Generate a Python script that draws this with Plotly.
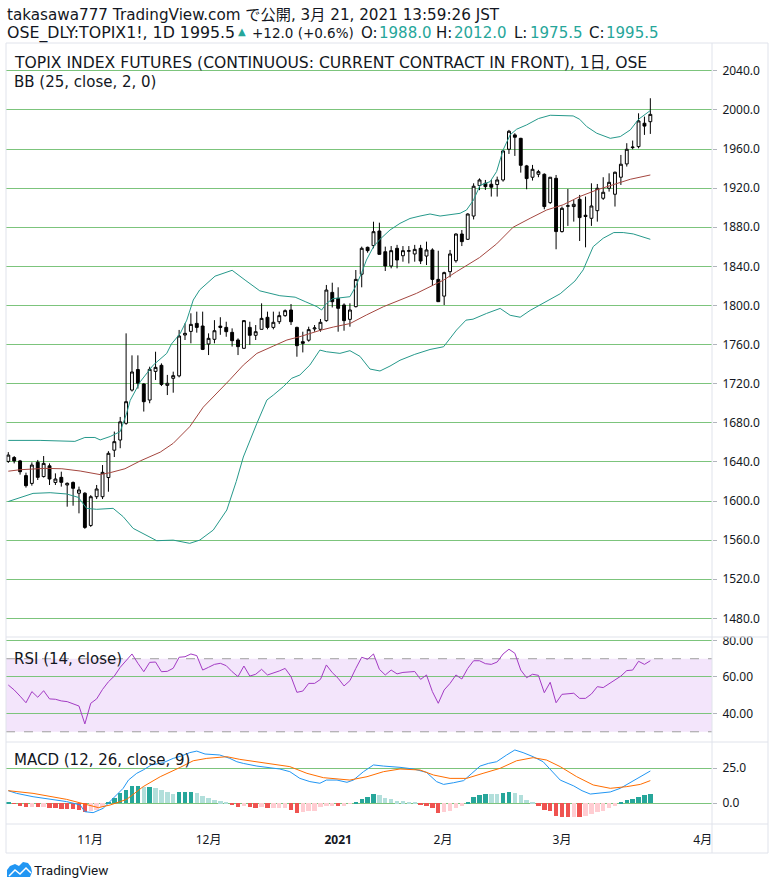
import plotly.graph_objects as go
from plotly.subplots import make_subplots

# ---- daily bars (bar index 0 = mid Oct 2020, last = 19 Mar 2021) ----
opens = [1640.5, 1644.5, 1641, 1626, 1618, 1639.6, 1625, 1636, 1619, 1624.2,
         1616.4, 1619, 1608, 1608, 1575, 1604.4, 1604.4, 1624, 1652, 1662.4,
         1679.5, 1713.5, 1734.5, 1719.7, 1703.3, 1732.6, 1738.8, 1718.3, 1725.5, 1728,
         1769.8, 1773.5, 1781.7, 1779, 1760.6, 1765.4, 1778.9, 1777.6, 1772.5, 1764.7,
         1756.2, 1777.6, 1769.5, 1775.6, 1787.9, 1777.6, 1783.4, 1789.6, 1795.4, 1777.6,
         1763, 1764.5, 1776, 1775.6, 1784.5, 1813.4, 1807.3, 1800.5, 1785.8, 1798.8,
         1832, 1859.5, 1861.2, 1876.2, 1855, 1840.4, 1858.5, 1850.9, 1855.5, 1852.7,
         1858.5, 1850.6, 1856.8, 1826.7, 1809.6, 1834.6, 1845.8, 1873.1, 1867.7, 1891.5,
         1922.6, 1925, 1924, 1923.7, 1928.4, 1959.8, 1974.5, 1971, 1942.8, 1931.2,
         1934.2, 1934.2, 1905.2, 1930.1, 1875.6, 1901.5, 1901.2, 1908.6, 1892.3, 1889.2,
         1897, 1909.7, 1919.9, 1913.8, 1931.2, 1944.8, 1961.5, 1962.5, 1986.4, 1988.0]
highs = [1650, 1646, 1642, 1629, 1639.5, 1642, 1646, 1638.5, 1628.3, 1630,
         1619, 1620, 1614.7, 1609, 1606, 1616.4, 1636.8, 1651, 1671, 1686,
         1771.5, 1749, 1749, 1720.5, 1737.4, 1752.7, 1740.8, 1729, 1732.3, 1775,
         1781.7, 1792, 1793.7, 1793.7, 1771.5, 1785, 1788, 1783.4, 1776.6, 1766.4,
         1785.1, 1783.4, 1780, 1802.2, 1793.7, 1793.7, 1793.7, 1796, 1801.5, 1778.3,
         1773.2, 1778.3, 1780, 1786.2, 1821, 1823.3, 1818.6, 1802.2, 1802.2, 1836.3,
         1860.2, 1860.2, 1885.7, 1884.7, 1860.2, 1860.8, 1862, 1860.8, 1860.8, 1862,
         1862, 1865.3, 1858.5, 1856, 1834.6, 1856.8, 1873.8, 1877.2, 1894.3, 1925,
         1930, 1928.4, 1928.4, 1931.8, 1959.1, 1979.6, 1976.2, 1971.5, 1943.8, 1943.8,
         1938.7, 1935.2, 1931.2, 1933.5, 1901.2, 1919.2, 1908, 1913.1, 1911.4, 1925,
         1924.3, 1931.2, 1935.2, 1937, 1954, 1966, 1968.7, 1996.6, 1993.2, 2012.0]
lows = [1639, 1638.5, 1627, 1613.7, 1615.7, 1621.5, 1624, 1616.4, 1616.4, 1614.7,
        1594.2, 1595.2, 1587.4, 1571.5, 1573.5, 1602, 1602, 1609.5, 1645, 1654,
        1678, 1712, 1715, 1691.5, 1700, 1723.8, 1717.6, 1708.4, 1710.8, 1726.5,
        1764.7, 1761.3, 1772.2, 1754.4, 1749.3, 1761.3, 1770, 1768, 1758, 1749.3,
        1756, 1759.6, 1764.7, 1775.6, 1775.6, 1775.6, 1781, 1788.5, 1780, 1747.6,
        1752, 1763, 1773.2, 1773.2, 1783.4, 1798, 1773.2, 1774.2, 1778.3, 1798,
        1818.6, 1854, 1858.5, 1852.3, 1835.3, 1838, 1838, 1844.8, 1843, 1844.8,
        1842.4, 1841.4, 1820, 1803.9, 1800.5, 1828.8, 1843.8, 1860.8, 1867, 1888,
        1918, 1918.2, 1911.4, 1911.4, 1926.7, 1955, 1953, 1935.9, 1918.9, 1927.8,
        1931.2, 1898.4, 1903.9, 1857.5, 1874.6, 1881.4, 1885.8, 1866, 1859.5, 1881.4,
        1885.8, 1908, 1916.5, 1901.2, 1923.3, 1942.1, 1959.8, 1960.8, 1974.5, 1975.5]
closes = [1647, 1641, 1630, 1615.7, 1636.8, 1624.2, 1638.5, 1622.5, 1622.5, 1619.1,
          1618.1, 1613, 1611.3, 1573, 1604.4, 1612.3, 1629.3, 1648.8, 1660.7, 1681,
          1701.6, 1732, 1720.5, 1701.6, 1734.7, 1736.7, 1719.3, 1720.4, 1728.2, 1768.8,
          1771.5, 1780.7, 1777.6, 1755.1, 1766.4, 1774.2, 1777.6, 1773.2, 1764, 1757.9,
          1784.5, 1769.5, 1773.2, 1786.8, 1777.6, 1782.8, 1789.6, 1794.7, 1783.4, 1758.9,
          1761.3, 1775.3, 1777, 1782.8, 1815.8, 1803.9, 1797.1, 1784.5, 1795.4, 1826.7,
          1858.5, 1856.1, 1875.5, 1852.3, 1840.4, 1856.1, 1846.5, 1856.1, 1856, 1857.4,
          1845.5, 1856.8, 1826.7, 1803.9, 1833.6, 1852.7, 1873.1, 1865.3, 1893.6, 1922,
          1928.4, 1921.6, 1921, 1928.4, 1958.1, 1978.2, 1972.1, 1943.4, 1929.8, 1939.3,
          1936.9, 1901.2, 1931.2, 1875.6, 1899.4, 1902, 1903.5, 1889.9, 1891, 1901.8,
          1919.9, 1915.8, 1926, 1936.3, 1944.5, 1959.8, 1962, 1988.8, 1983.5, 1995.5]
bars = list(range(len(closes)))

# ---- Bollinger bands (read at bar positions) ----
bb_upper_x = [0, 5.4, 11.3, 13, 14.7, 15.6, 17.3, 19, 20.1, 20.7, 22.4, 24.6, 26.9, 27.7,
              29.2, 30.3, 31.4, 32.5, 35.1, 38, 40.2, 42.7, 46.1, 48.7, 50.4, 52.4, 53.2,
              54, 55.1, 56.8, 58, 58.9, 60, 60.8, 62, 63.1, 64.8, 66.5, 68.2, 69.9, 71.6,
              73.3, 75, 76.7, 77.8, 79, 80.1, 81.8, 82.9, 84, 85.2, 86.3, 88, 90, 92,
              94.2, 95.9, 97, 98.2, 99.9, 102.2, 103.9, 105.6, 107, 108.4, 109]
bb_upper = [1662, 1662, 1661, 1665, 1665, 1662.5, 1666, 1671, 1690, 1703, 1722, 1739, 1751,
            1760.6, 1771.5, 1785, 1805.6, 1816, 1830, 1836, 1826, 1815, 1810, 1808.5, 1804,
            1798.8, 1795.4, 1802, 1807, 1808, 1809, 1818.6, 1833.6, 1846.5, 1860.2, 1867.7,
            1877.2, 1884, 1889, 1891.5, 1893.6, 1891.5, 1892.6, 1894.3, 1897.7, 1908, 1923,
            1926.7, 1937, 1959, 1974.5, 1980.3, 1984.7, 1991.2, 1994.6, 1994.6, 1993.9,
            1990.5, 1983, 1976.2, 1971, 1972.8, 1979.6, 1990.5, 1996.6, 1999.4]
bb_basis_x = [0, 2, 6.2, 9.1, 12.2, 15.6, 17.3, 19.8, 22.4, 25.8, 28, 30.8, 33.1, 35.4,
              37.6, 39.9, 42.2, 45, 47.3, 49.5, 52.9, 55.2, 58, 60.8, 63.7, 66.5, 69.3,
              72.2, 73.9, 76.1, 78.9, 80, 82.9, 85.7, 88.6, 91.4, 94.2, 97, 99.9, 102.7,
              105.6, 109]
bb_basis = [1630.5, 1632, 1633.4, 1633, 1630.7, 1627, 1629, 1633, 1641, 1650, 1659, 1676,
            1696, 1710, 1724, 1739, 1751, 1758.5, 1764.7, 1768.1, 1774.5, 1778, 1781.5,
            1790.3, 1798.8, 1805.6, 1812.4, 1821, 1826, 1834.6, 1844.8, 1849, 1863, 1880,
            1889.2, 1897.7, 1903, 1911.4, 1918.2, 1923.3, 1929.1, 1933.5]
bb_lower_x = [0, 2, 4.2, 7.1, 9.9, 11.9, 13.3, 15, 17.8, 19.5, 21.2, 25.2, 28, 30.8, 32.5,
              34.8, 37.1, 38.7, 39.9, 42.2, 43.9, 45, 46.7, 48.1, 49.5, 51.2, 52.9, 54,
              56.3, 58, 59.7, 61.4, 63.1, 64.8, 66.5, 69, 71.6, 73.9, 76.1, 77.7, 78.9,
              81.2, 83.5, 85.2, 86.9, 88.6, 91.1, 93.7, 96.2, 97.6, 99.3, 101, 102.8,
              104.4, 106.1, 109]
bb_lower = [1599.5, 1603.7, 1607.8, 1608.5, 1607.2, 1603.7, 1592.5, 1591.5, 1592.5, 1584,
            1572, 1559.4, 1560, 1556.7, 1560, 1570.3, 1590.8, 1620, 1645, 1679.4, 1703.3,
            1708.4, 1717, 1725.5, 1728.9, 1739.1, 1754.4, 1752.7, 1751, 1753.8, 1748, 1735,
            1733, 1738, 1744, 1750, 1755, 1757.8, 1774.9, 1785, 1786, 1791.9, 1797, 1790,
            1788, 1795, 1803, 1812, 1825, 1836.4, 1860.2, 1868.8, 1874.6, 1874.6, 1873.2,
            1867.7]

# ---- RSI (14) per bar ----
rsi = [55.6, 52.9, 49.5, 45.9, 52, 48.9, 52.5, 48, 47.8, 46.9,
       46.5, 45.2, 44.1, 34.3, 45.6, 48, 53.2, 57.4, 60.5, 65.3,
       69, 72.6, 67.5, 62.9, 68, 68.2, 62.9, 63.1, 64.8, 70.8,
       71.1, 72.6, 71.7, 63.8, 65.3, 66.9, 67.5, 66.2, 62.9, 60.2,
       66, 60.5, 61.5, 64.2, 61.1, 62, 63.3, 64.7, 60.2, 51.6,
       52.3, 56.5, 56.5, 58.7, 66.6, 62.4, 59.3, 55.1, 58, 64.7,
       70.8, 69.7, 72.6, 64.2, 61.1, 63.8, 61.7, 62.5, 62.8, 63,
       58.7, 61.1, 52, 45.6, 52.9, 56.5, 61.1, 58.9, 64.7, 68.9,
       68.9, 67.3, 66.9, 68.2, 72.6, 75.2, 73, 63.8, 59.6, 61.5,
       60.9, 51.4, 57.1, 45.9, 50.5, 50.7, 51.1, 48.3, 48.3, 50.7,
       54.7, 54.2, 56.2, 58.4, 60.5, 63.5, 63.8, 68.6, 66.9, 68.9]

# ---- MACD (12, 26, 9) ----
macd_x = [0, 1.4, 4.2, 7.1, 9.9, 12.2, 13, 14.4, 16.1, 17.8, 19.5, 20.4, 21.8, 22.9, 24.3,
          26.3, 28, 29.4, 30.8, 32, 33.4, 35.9, 37.6, 38.8, 39.9, 42.2, 43.9, 46.1, 47.8,
          49.5, 51.2, 52.9, 54, 55.8, 57.5, 58.6, 60.3, 62, 63.7, 65.4, 66.5, 68.8, 71,
          72.7, 73.9, 75.6, 77.3, 78.7, 80.1, 81.5, 82.9, 84.6, 86, 87.4, 89.1, 90.8,
          92.3, 93.7, 96, 97.4, 98.8, 100.5, 102.2, 103.9, 105.6, 107.3, 109]
macd = [8.8, 6.9, 4.5, 2.6, 1, -1.4, -6.2, -6.9, -3.8, 3.3, 10.5, 16.4, 21.2, 23.6, 27.2,
        28.8, 31.9, 33.6, 36, 37.1, 35, 34.3, 31.9, 29.5, 28.3, 26.4, 25.5, 24.3, 22.4,
        17.6, 15.3, 14.1, 16.4, 16.4, 14.8, 16.4, 22.4, 27.2, 26.4, 26, 25.5, 24.3, 21.9,
        15.3, 13.3, 14.5, 16, 21.2, 26.4, 28.3, 29.5, 34.3, 37.9, 36, 33.1, 29.5, 22.4,
        16.4, 12.2, 8.8, 6.4, 6.9, 7.9, 10.5, 14.5, 18.8, 22.9]
signal_x = [0, 4.2, 9.9, 13.3, 15.3, 17.3, 20.1, 22.9, 25.8, 29.2, 31.4, 33.7, 37.1, 39.3,
            43.9, 47.8, 50.7, 53.5, 58, 60.9, 63.7, 66.5, 69.9, 72.2, 75, 77.8, 80.6,
            83.5, 86.3, 89.1, 91.4, 93.7, 96.5, 99.3, 102.2, 105, 107.3, 109]
signal = [8.8, 6.9, 2.6, -1.4, -3.3, -1.4, 2.6, 11.7, 18.8, 25.5, 30.2, 31.9, 33.1, 31.2,
          28.3, 26, 21.2, 18.1, 16.4, 18.8, 22.4, 24.3, 23.6, 20, 17.6, 17.6, 21.2, 24.8,
          30.2, 32.4, 30.7, 26, 18.8, 12.9, 10.5, 11.7, 13.3, 16]
macd_hist = [0.3, -0.5, -1.9, -3, -2.8, -3.2, -2.6, -3.3, -3.6, -4,
             -4.3, -4.4, -5, -6.7, -5.5, -5, -2.6, 1, 3.3, 7,
             9.5, 12, 12.2, 11.2, 11.4, 11, 9.3, 7.6, 6.4, 7.6,
             7.8, 8, 6.9, 5, 3.3, 2.2, 1.4, 0.5, -1.4, -2.6,
             -2.4, -3, -3.6, -3.1, -3.8, -3.6, -3.5, -3.4, -4.8, -6.9,
             -6.2, -6, -5.7, -2.6, -2.1, -2, -2.2, -2, -0.5, 0.3,
             2.6, 4, 6.4, 5.7, 3.3, 2.9, 1.4, 1.2, 0.6, 0.1,
             -1.7, -2, -3.8, -7.4, -6.7, -5.5, -3.3, -1.9, 1, 4,
             5.7, 6.4, 6.2, 6.1, 6.9, 7.6, 7.4, 5.5, 2.1, 0.7,
             -1.9, -5, -5.5, -9, -9.8, -9.9, -9.7, -9.9, -9.3, -7.9,
             -6.2, -5.5, -3.8, -1.9, 0.3, 2.1, 2.9, 4.5, 5.7, 6.4]

price_ticks = [1480, 1520, 1560, 1600, 1640, 1680, 1720, 1760, 1800, 1840, 1880, 1920,
               1960, 2000, 2040]
rsi_ticks = [40, 60, 80]
macd_ticks = [0, 25]
month_pos = [13.9, 34, 56, 73.8, 94, 117.9]
month_labels = ["11月", "12月", "<b>2021</b>", "2月", "3月", "4月"]

# ---- page geometry (pixels) ----
W, H = 775, 889
L, R, T, B = 6, 712, 43, 824
PW, PH = R - L, B - T


def px(x):
    return (x - L) / PW


def py(y):
    return (B - y) / PH


FONT = "Noto Sans, Noto Sans CJK JP, sans-serif"
TFONT = "DejaVu Sans, Noto Sans CJK JP, sans-serif"
GRID = "#7cc47c"
BORDER = "#e0e3eb"
TEAL = "#26a69a"
TXT = "#131722"

fig = make_subplots(rows=3, cols=1, shared_xaxes=True, vertical_spacing=0)

fig.add_trace(go.Candlestick(
    x=bars, open=opens, high=highs, low=lows, close=closes,
    increasing=dict(line=dict(color="#000000", width=1), fillcolor="#ffffff"),
    decreasing=dict(line=dict(color="#000000", width=1), fillcolor="#000000"),
    whiskerwidth=0), row=1, col=1)

bb_teal = "#26998b"
fig.add_trace(go.Scatter(x=bb_upper_x, y=bb_upper, mode="lines",
                         line=dict(color=bb_teal, width=1)), row=1, col=1)
fig.add_trace(go.Scatter(x=bb_lower_x, y=bb_lower, mode="lines",
                         line=dict(color=bb_teal, width=1)), row=1, col=1)
fig.add_trace(go.Scatter(x=bb_basis_x, y=bb_basis, mode="lines",
                         line=dict(color="#a4463f", width=1)), row=1, col=1)

fig.add_trace(go.Scatter(x=bars, y=rsi, mode="lines",
                         line=dict(color="#a33bc4", width=1)), row=2, col=1)

# histogram colours follow TradingView's rising / falling rule
hist_colors = []
prev = 0
for h in macd_hist:
    if h >= 0:
        hist_colors.append(TEAL if h >= prev else "#b2dfdb")
    else:
        hist_colors.append("#ef5350" if h <= prev else "#ffcdd2")
    prev = h

fig.add_trace(go.Bar(x=bars, y=macd_hist, marker=dict(color=hist_colors, line=dict(width=0)),
                     width=0.75), row=3, col=1)
fig.add_trace(go.Scatter(x=macd_x, y=macd, mode="lines",
                         line=dict(color="#2196f3", width=1)), row=3, col=1)
fig.add_trace(go.Scatter(x=signal_x, y=signal, mode="lines",
                         line=dict(color="#ff6d00", width=1)), row=3, col=1)

d1 = 82 / PH
d2 = 187 / PH
axis_font = dict(family=FONT, size=12, color=TXT)
common_y = dict(side="right", showgrid=True, gridcolor=GRID, gridwidth=1, zeroline=False,
                ticks="outside", ticklen=4, tickcolor="#b2b5be", tickfont=axis_font,
                ticklabelstandoff=3, showline=False, fixedrange=True)

fig.update_layout(
    width=W, height=H,
    margin=dict(l=L, r=W - R, t=T, b=H - B),
    paper_bgcolor="white", plot_bgcolor="white",
    showlegend=False, bargap=0,
    yaxis=dict(domain=[d2, 1], range=[1460.9, 2068.5], tickvals=price_ticks,
               ticktext=[f"{v:.1f}" for v in price_ticks], **common_y),
    yaxis2=dict(domain=[d1, d2], range=[24.4, 81.9], tickvals=rsi_ticks,
                ticktext=[f"{v:.2f}" for v in rsi_ticks], **common_y),
    yaxis3=dict(domain=[0, d1], range=[-15, 43.6], tickvals=macd_ticks,
                ticktext=[f"{v:.1f}" for v in macd_ticks], **common_y),
)
fig.update_xaxes(range=[-0.39, 119.47], showgrid=False, zeroline=False, showline=False,
                 rangeslider_visible=False, fixedrange=True)
fig.update_xaxes(tickvals=month_pos, ticktext=month_labels, tickfont=axis_font,
                 ticks="outside", ticklen=5, tickcolor="rgba(0,0,0,0)", row=3, col=1)

shapes = []
# RSI band and its dashed limits
shapes.append(dict(type="rect", xref="paper", yref="y2", x0=0, x1=1, y0=30, y1=70,
                   fillcolor="#f3e5fb", line=dict(width=0), layer="below"))
for lvl in (70, 30):
    shapes.append(dict(type="line", xref="paper", yref="y2", x0=0, x1=1, y0=lvl, y1=lvl,
                       line=dict(color="#9e9e9e", width=1, dash="dash"), layer="below"))
# the RSI scale's top label is cut by the pane edge in the original
shapes.append(dict(type="rect", xref="paper", yref="paper", x0=px(713), x1=px(767),
                   y0=py(636.5), y1=py(628), fillcolor="white", line=dict(width=0),
                   layer="above"))
# pane frame
right_edge = px(768)
for yy in (43, 637, 742, 824, 853):
    shapes.append(dict(type="line", xref="paper", yref="paper", x0=0, x1=right_edge,
                       y0=py(yy), y1=py(yy), line=dict(color=BORDER, width=1)))
for xx in (6, 712, 768):
    shapes.append(dict(type="line", xref="paper", yref="paper", x0=px(xx), x1=px(xx),
                       y0=py(43), y1=py(853), line=dict(color=BORDER, width=1)))
# TradingView logo mark
cloud = [(7, 877), (7, 870), (10, 866), (15, 864), (19, 866), (23, 862), (28, 863),
         (31, 867), (32, 872), (30, 877)]
path = "M " + " L ".join(f"{px(a):.5f},{py(b):.5f}" for a, b in cloud) + " Z"
shapes.append(dict(type="path", xref="paper", yref="paper", path=path,
                   fillcolor="#2196f3", line=dict(width=0)))
wave = [(9, 876), (15, 870), (20, 874), (26, 868), (31, 873)]
shapes.append(dict(type="path", xref="paper", yref="paper",
                   path="M " + " L ".join(f"{px(a):.5f},{py(b):.5f}" for a, b in wave),
                   line=dict(color="white", width=1.5)))
fig.update_layout(shapes=shapes)


def note(x0, y0, text, size=15, color=TXT, family=TFONT):
    fig.add_annotation(x=px(x0), y=py(y0), xref="paper", yref="paper", text=text,
                       showarrow=False, xanchor="left", yanchor="middle",
                       font=dict(family=family, size=size, color=color))


note(5, 15, "takasawa777 TradingView.com で公開, 3月 21, 2021 13:59:26 JST", size=15.2)
# second header line, pieces placed where they sit in the original
note(5, 33, f"OSE_DLY:TOPIX1!, 1D {closes[-1]:.1f}", size=15.8)
note(236, 31, "▲", size=10, color=TEAL)
note(250, 33, f"+{closes[-1] - closes[-2]:.1f} (+0.6%)", size=13.5)
note(359, 33, "O:")
note(377, 33, f"{opens[-1]:.1f}", color=TEAL)
note(434, 33, "H:")
note(452, 33, f"{highs[-1]:.1f}", color=TEAL)
note(512, 33, "L:")
note(528, 33, f"{lows[-1]:.1f}", color=TEAL)
note(587, 33, "C:")
note(604, 33, f"{closes[-1]:.1f}", color=TEAL)

note(12, 63, "TOPIX INDEX FUTURES (CONTINUOUS: CURRENT CONTRACT IN FRONT), 1日, OSE",
     size=15.6)
note(12, 82, "BB (25, close, 2, 0)")
note(12, 659, "RSI (14, close)")
note(12, 760, "MACD (12, 26, close, 9)")
note(32, 870, "TradingView", size=13.5, family="Roboto, sans-serif")

# the page is shown edge to edge, like the original snapshot
fig.write_html("out.html", config={"displayModeBar": False},
               post_script="document.body.style.margin='0';")
